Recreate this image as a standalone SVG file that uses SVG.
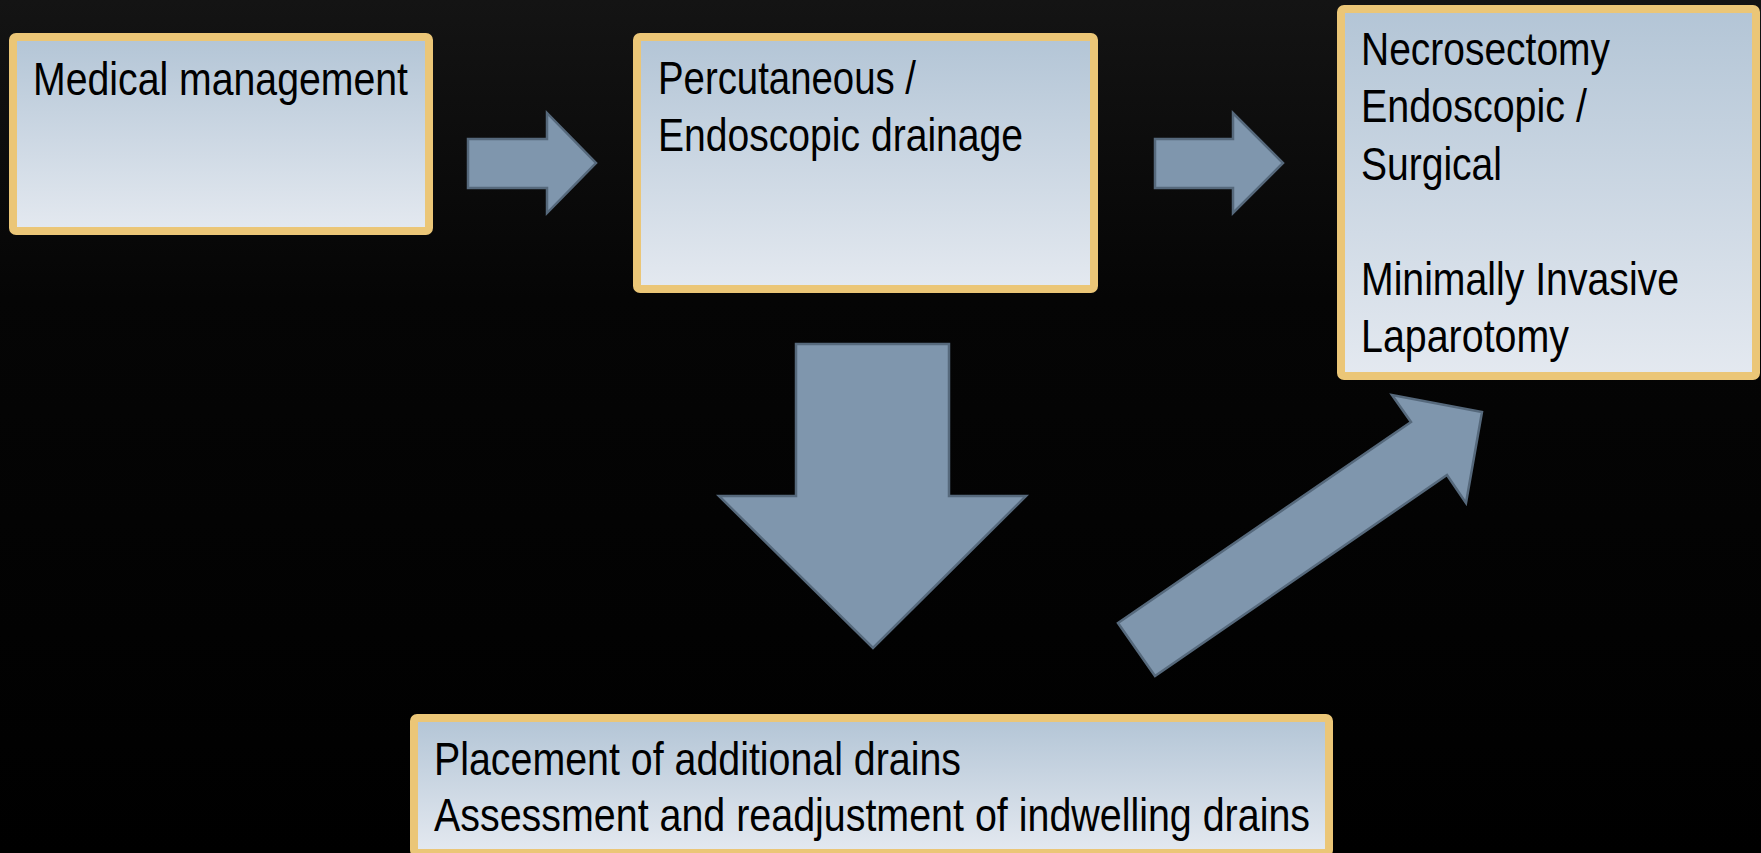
<svg xmlns="http://www.w3.org/2000/svg" width="1761" height="853" viewBox="0 0 1761 853">
<defs>
<linearGradient id="bg" x1="0" y1="0" x2="0" y2="1">
<stop offset="0" stop-color="#141414"/>
<stop offset="0.35" stop-color="#050505"/>
<stop offset="1" stop-color="#000000"/>
</linearGradient>
<linearGradient id="boxfill" x1="0" y1="0" x2="0" y2="1">
<stop offset="0" stop-color="#b3c5d6"/>
<stop offset="1" stop-color="#e4e9f0"/>
</linearGradient>
<style>
.box{fill:url(#boxfill);stroke:#ebc677;stroke-width:8;}
.arrow{fill:#7f96ad;stroke:#56697c;stroke-width:2.5;stroke-linejoin:miter;}
.t{font-family:"Liberation Sans",Arial,sans-serif;font-size:46px;fill:#000;}
</style>
</defs>
<rect width="1761" height="853" fill="url(#bg)"/>
<g id="connectors">
<polygon class="arrow" points="468,139 547,139 547,113 596,163 547,213 547,188 468,188"/>
<polygon class="arrow" points="1155,139 1233,139 1233,113 1283,163 1233,213 1233,188 1155,188"/>
<polygon class="arrow" points="796,344 949,344 949,496 1026,496 873,648 719,496 796,496"/>
<polygon class="arrow" points="1118,623 1411,422 1392,395 1482,412 1466,503 1447,475 1155,676"/>
</g>
<g id="node-medical">
<rect class="box" x="13" y="37" width="416" height="194" rx="3"/>
<text class="t" x="33" y="95" textLength="375" lengthAdjust="spacingAndGlyphs">Medical management</text>
</g>
<g id="node-drainage">
<rect class="box" x="637" y="37" width="457" height="252" rx="3"/>
<text class="t" x="658" y="94" textLength="258" lengthAdjust="spacingAndGlyphs">Percutaneous /</text>
<text class="t" x="658" y="151" textLength="365" lengthAdjust="spacingAndGlyphs">Endoscopic drainage</text>
</g>
<g id="node-necrosectomy">
<rect class="box" x="1341" y="9" width="415" height="367" rx="3"/>
<text class="t" x="1361" y="65" textLength="249" lengthAdjust="spacingAndGlyphs">Necrosectomy</text>
<text class="t" x="1361" y="122" textLength="226" lengthAdjust="spacingAndGlyphs">Endoscopic /</text>
<text class="t" x="1361" y="180" textLength="141" lengthAdjust="spacingAndGlyphs">Surgical</text>
<text class="t" x="1361" y="295" textLength="318" lengthAdjust="spacingAndGlyphs">Minimally Invasive</text>
<text class="t" x="1361" y="352" textLength="208" lengthAdjust="spacingAndGlyphs">Laparotomy</text>
</g>
<g id="node-drains">
<rect class="box" x="414" y="718" width="915" height="135" rx="3"/>
<text class="t" x="434" y="775" textLength="527" lengthAdjust="spacingAndGlyphs">Placement of additional drains</text>
<text class="t" x="434" y="831" textLength="876" lengthAdjust="spacingAndGlyphs">Assessment and readjustment of indwelling drains</text>
</g>
</svg>
